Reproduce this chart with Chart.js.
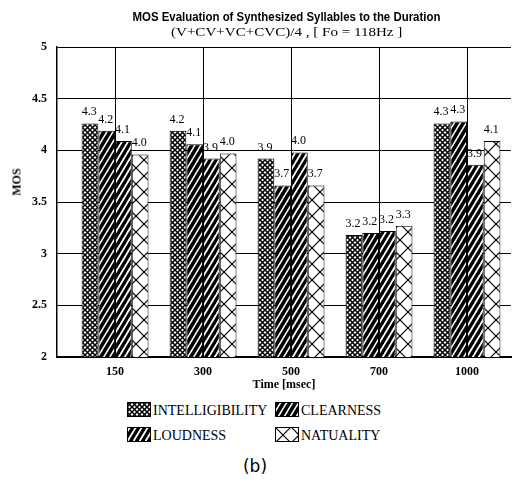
<!DOCTYPE html>
<html><head><meta charset="utf-8">
<script src="https://cdn.jsdelivr.net/npm/chart.js@4.4.0/dist/chart.umd.min.js"></script>
<style>
body{margin:0;background:#fff;width:519px;height:484px;position:relative;overflow:hidden;}
#wrap{position:absolute;left:0;top:0;width:519px;height:395px;}
.abs{position:absolute;white-space:nowrap;color:#000;}
.tl{left:27px;width:519px;text-align:center;}
.tl span{display:inline-block;}
#t1{top:10px;font:bold 12.5px "Liberation Sans";line-height:14px;}
#t2{top:24px;font:13.5px "Liberation Serif";line-height:15px;}
#ytitle{left:17px;top:182px;font:bold 12px "Liberation Serif";transform:translate(-50%,-50%) rotate(-90deg);}
.lg{font:14px "Liberation Serif";line-height:15px;}
.sw{position:absolute;}
#cap{left:0;width:510px;text-align:center;top:456px;font:17px "DejaVu Sans";line-height:20px;}
</style>
</head><body>
<div id="wrap"><canvas id="c" width="519" height="395"></canvas></div>
<div class="abs tl" id="t1"><span id="t1s"></span></div>
<div class="abs tl" id="t2"><span id="t2s"></span></div>
<div class="abs" id="ytitle"></div>
<div id="legend"></div>
<div class="abs" id="cap">(b)</div>
<script>
// ---- data ----
const categories = ['150', '300', '500', '700', '1000'];
const seriesNames = ['INTELLIGIBILITY', 'CLEARNESS', 'LOUDNESS', 'NATUALITY'];
const intelligibility = [4.26, 4.19, 3.92, 3.18, 4.26];
const clearness       = [4.19, 4.06, 3.66, 3.20, 4.28];
const loudness        = [4.09, 3.92, 3.98, 3.22, 3.86];
const natuality       = [3.96, 3.97, 3.66, 3.27, 4.09];
const yTicks = [2, 2.5, 3, 3.5, 4, 4.5, 5];
const titleLine1 = 'MOS Evaluation of Synthesized Syllables to the Duration';
const titleLine2 = '(V+CV+VC+CVC)/4 , [ Fo = 118Hz ]';
const xTitle = 'Time [msec]';
const yTitle = 'MOS';

// ---- patterns ----
function tile(w, h, bg, fg, lw, dirs) {
  const c = document.createElement('canvas');
  c.width = w; c.height = h;
  const g = c.getContext('2d');
  g.fillStyle = bg; g.fillRect(0, 0, w, h);
  g.strokeStyle = fg; g.lineWidth = lw; g.lineCap = 'square';
  for (const d of dirs) {
    for (const x0 of [-w, 0, w]) {
      g.beginPath();
      if (d === '/') { g.moveTo(x0, h); g.lineTo(x0 + w, 0); }
      else { g.moveTo(x0, 0); g.lineTo(x0 + w, h); }
      g.stroke();
    }
  }
  return c;
}
const tiles = [
  tile(5, 5, '#fff', '#000', 1.5, ['/', '\\']),
  tile(6, 10, '#000', '#fff', 1.5, ['/']),
  tile(6, 10, '#fff', '#000', 3.3, ['/']),
  tile(16, 16, '#fff', '#000', 1.2, ['/', '\\'])
];
const ctx = document.getElementById('c').getContext('2d');
const patterns = tiles.map(t => ctx.createPattern(t, 'repeat'));
const seriesValues = [intelligibility, clearness, loudness, natuality];

// ---- titles / legend (HTML text) ----
const s1 = document.getElementById('t1s'); s1.textContent = titleLine1;
const s2 = document.getElementById('t2s'); s2.textContent = titleLine2;
s1.style.transform = 'scaleX(' + (308 / s1.offsetWidth) + ')';
s2.style.transform = 'scaleX(' + (231 / s2.offsetWidth) + ')';
document.getElementById('ytitle').textContent = yTitle;

const legendPos = [[127, 402], [275, 402], [127, 427], [275, 427]];
const legend = document.getElementById('legend');
seriesNames.forEach((name, i) => {
  const [lx, ly] = legendPos[i];
  const sw = document.createElement('canvas');
  sw.width = 24; sw.height = 15; sw.className = 'sw';
  sw.style.left = lx + 'px'; sw.style.top = ly + 'px';
  const g = sw.getContext('2d');
  g.fillStyle = g.createPattern(tiles[i], 'repeat');
  g.fillRect(0, 0, 24, 15);
  g.strokeStyle = '#000'; g.lineWidth = 1; g.strokeRect(0.5, 0.5, 23, 14);
  legend.appendChild(sw);
  const t = document.createElement('div');
  t.className = 'abs lg'; t.textContent = name;
  t.style.left = (lx + 26) + 'px'; t.style.top = (ly + 1) + 'px';
  legend.appendChild(t);
});

// ---- value labels plugin ----
const valueLabels = {
  id: 'valueLabels',
  afterDatasetsDraw(chart) {
    const c = chart.ctx;
    c.save();
    c.font = '12px "Liberation Serif"';
    c.fillStyle = '#000';
    c.textAlign = 'left';
    c.textBaseline = 'alphabetic';
    chart.data.datasets.forEach((ds, i) => {
      chart.getDatasetMeta(i).data.forEach((bar, j) => {
        c.fillText(ds.data[j].y.toFixed(1), bar.x - bar.width / 2, bar.y - 8);
      });
    });
    c.restore();
  }
};

new Chart(ctx, {
  type: 'bar',
  data: {
    datasets: seriesNames.map((name, i) => ({
      label: name,
      data: seriesValues[i].map((v, j) => ({ x: j, y: v })),
      backgroundColor: patterns[i],
      borderColor: '#000',
      borderWidth: 1,
      categoryPercentage: 0.76,
      barPercentage: 1.0
    }))
  },
  options: {
    responsive: false,
    animation: false,
    layout: { padding: { top: 47, right: 8, left: 0, bottom: 0 } },
    plugins: { legend: { display: false }, tooltip: { enabled: false }, title: { display: false } },
    scales: {
      x: {
        type: 'linear',
        offset: false,
        min: -0.66, max: 4.5,
        afterBuildTicks: s => { s.ticks = categories.map((c, i) => ({ value: i })); },
        afterFit: s => { s.height = 38; },
        ticks: {
          callback: v => categories[v],
          font: { family: 'Liberation Serif', size: 12, weight: 'bold' },
          color: '#000', padding: 8, maxRotation: 0, autoSkip: false
        },
        grid: { offset: false, color: '#000', lineWidth: 1, drawTicks: false },
        border: { color: '#000', width: 2 },
        title: {
          display: true, text: xTitle, color: '#000',
          font: { family: 'Liberation Serif', size: 12, weight: 'bold' },
          padding: { top: 0, bottom: 3 }
        }
      },
      y: {
        min: 2, max: 5,
        afterBuildTicks: s => { s.ticks = yTicks.map(v => ({ value: v })); },
        afterFit: s => { s.width = 57; },
        ticks: {
          callback: v => String(v),
          font: { family: 'Liberation Serif', size: 12, weight: 'bold' },
          color: '#000', padding: 10
        },
        grid: { color: '#000', lineWidth: 1, drawTicks: false },
        border: { color: '#000', width: 1.5 }
      }
    }
  },
  plugins: [valueLabels]
});
</script>
</body></html>
